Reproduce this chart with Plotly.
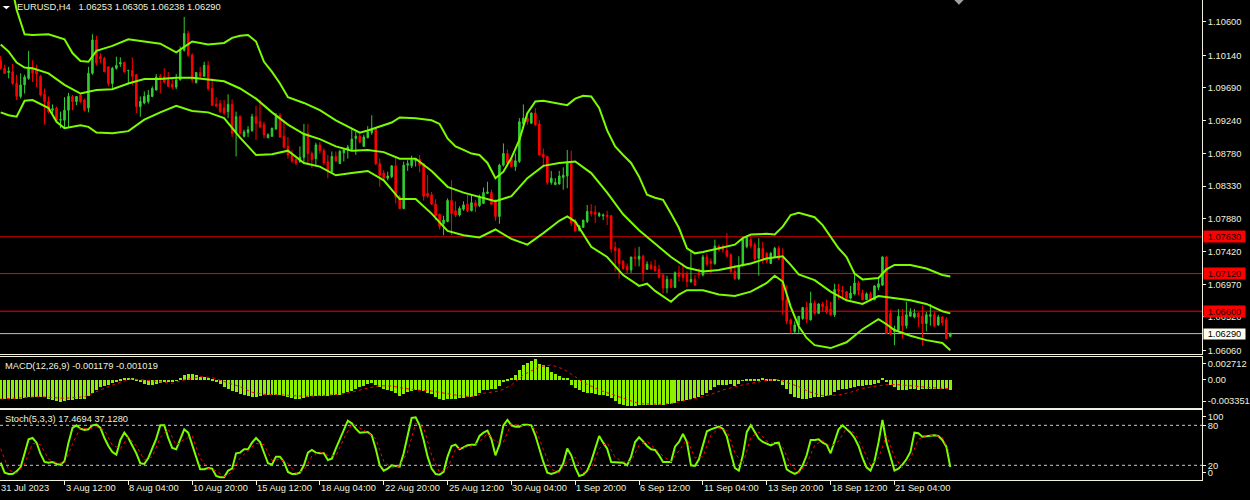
import plotly.graph_objects as go

# EURUSD H4 candles, bar 0 = 31 Jul 2023 20:00
opens = [
    1.1007, 1.0996, 1.0990, 1.0991, 1.0975, 1.0957, 1.0973, 1.0982, 1.0996, 1.0994,
    1.0985, 1.0960, 1.0950, 1.0938, 1.0941, 1.0924, 1.0924, 1.0938, 1.0957, 1.0950,
    1.0959, 1.0952, 1.0941, 1.0989, 1.1035, 1.1012, 1.1010, 1.0998, 1.0975, 1.0996,
    1.1002, 1.1004, 1.0993, 1.0993, 1.0987, 1.0943, 1.0948, 1.0950, 1.0957, 1.0966,
    1.0985, 1.0984, 1.0980, 1.0974, 1.0970, 1.0980, 1.1021, 1.1044, 1.1014, 1.0976,
    1.0990, 1.0985, 1.1000, 1.0968, 1.0946, 1.0947, 1.0941, 1.0936, 1.0946, 1.0908,
    1.0929, 1.0902, 1.0907, 1.0910, 1.0929, 1.0922, 1.0918, 1.0900, 1.0902, 1.0912,
    1.0931, 1.0902, 1.0888, 1.0876, 1.0870, 1.0867, 1.0873, 1.0906, 1.0878, 1.0871,
    1.0890, 1.0882, 1.0867, 1.0853, 1.0874, 1.0864, 1.0879, 1.0883, 1.0884, 1.0899,
    1.0902, 1.0888, 1.0900, 1.0907, 1.0912, 1.0864, 1.0851, 1.0844, 1.0846, 1.0861,
    1.0818, 1.0802, 1.0862, 1.0861, 1.0868, 1.0870, 1.0864, 1.0823, 1.0821, 1.0808,
    1.0794, 1.0781, 1.0784, 1.0813, 1.0799, 1.0793, 1.0801, 1.0808, 1.0799, 1.0810,
    1.0806, 1.0809, 1.0823, 1.0824, 1.0812, 1.0791, 1.0862, 1.0878, 1.0871, 1.0860,
    1.0867, 1.0919, 1.0927, 1.0920, 1.0934, 1.0919, 1.0877, 1.0874, 1.0838, 1.0835,
    1.0836, 1.0845, 1.0847, 1.0865, 1.0784, 1.0772, 1.0776, 1.0784, 1.0798, 1.0797,
    1.0792, 1.0792, 1.0793, 1.0792, 1.0748, 1.0746, 1.0729, 1.0722, 1.0717, 1.0735,
    1.0732, 1.0736, 1.0718, 1.0724, 1.0722, 1.0718, 1.0710, 1.0692, 1.0704, 1.0693,
    1.0713, 1.0712, 1.0712, 1.0701, 1.0704, 1.0713, 1.0710, 1.0735, 1.0729, 1.0726,
    1.0750, 1.0749, 1.0744, 1.0738, 1.0715, 1.0705, 1.0723, 1.0749, 1.0759, 1.0752,
    1.0733, 1.0747, 1.0740, 1.0726, 1.0735, 1.0747, 1.0733, 1.0676, 1.0648, 1.0632,
    1.0641, 1.0650, 1.0665, 1.0648, 1.0671, 1.0657, 1.0670, 1.0667, 1.0663, 1.0655,
    1.0690, 1.0689, 1.0687, 1.0678, 1.0684, 1.0699, 1.0685, 1.0676, 1.0684, 1.0676,
    1.0693, 1.0696, 1.0735, 1.0657, 1.0632, 1.0634, 1.0653, 1.0640, 1.0653, 1.0652,
    1.0657, 1.0653, 1.0643, 1.0653, 1.0655, 1.0641, 1.0652, 1.0648, 1.06253]
highs = [
    1.1013, 1.1001, 1.0998, 1.1002, 1.0987, 1.0989, 1.0987, 1.1020, 1.1007, 1.1001,
    1.0987, 1.0968, 1.0957, 1.0946, 1.0943, 1.0936, 1.0956, 1.0962, 1.0959, 1.0957,
    1.0960, 1.0954, 1.0998, 1.1043, 1.1041, 1.1017, 1.1012, 1.0998, 1.0998, 1.1012,
    1.1011, 1.1005, 1.0993, 1.1011, 1.0988, 1.0957, 1.0964, 1.0966, 1.0971, 1.0988,
    1.0988, 1.0996, 1.0991, 1.0982, 1.0988, 1.1026, 1.1067, 1.1048, 1.1017, 1.0991,
    1.0998, 1.1005, 1.1006, 1.0982, 1.0956, 1.0952, 1.0952, 1.0960, 1.0953, 1.0936,
    1.0931, 1.0911, 1.0916, 1.0933, 1.0944, 1.0952, 1.0922, 1.0906, 1.0914, 1.0934,
    1.0934, 1.0924, 1.0901, 1.0883, 1.0871, 1.0888, 1.0919, 1.0919, 1.0881, 1.0893,
    1.0894, 1.0885, 1.0876, 1.0881, 1.0881, 1.0883, 1.0885, 1.0890, 1.0913, 1.0908,
    1.0905, 1.0904, 1.0916, 1.0931, 1.0913, 1.0871, 1.0855, 1.0853, 1.0862, 1.0874,
    1.0821, 1.0867, 1.0869, 1.0875, 1.0871, 1.0876, 1.0864, 1.0848, 1.0825, 1.0815,
    1.0795, 1.0792, 1.0816, 1.0841, 1.0812, 1.0805, 1.0812, 1.0821, 1.0821, 1.0814,
    1.0821, 1.0831, 1.0839, 1.0828, 1.0815, 1.0864, 1.0892, 1.0884, 1.0874, 1.0878,
    1.0927, 1.0946, 1.0935, 1.0935, 1.0941, 1.0924, 1.0885, 1.0875, 1.0854, 1.0844,
    1.0854, 1.0859, 1.0883, 1.0882, 1.0788, 1.0779, 1.0786, 1.0807, 1.0808, 1.0806,
    1.0797, 1.0795, 1.0799, 1.0793, 1.0756, 1.0748, 1.0731, 1.0726, 1.0735, 1.0747,
    1.0749, 1.0738, 1.0729, 1.0729, 1.0731, 1.0724, 1.0712, 1.0709, 1.0705, 1.0715,
    1.0723, 1.0726, 1.0715, 1.0744, 1.0710, 1.0719, 1.0738, 1.0740, 1.0733, 1.0759,
    1.0752, 1.0752, 1.0768, 1.0740, 1.0724, 1.0736, 1.0763, 1.0764, 1.0763, 1.0755,
    1.0761, 1.0756, 1.0742, 1.0742, 1.0749, 1.0750, 1.0747, 1.0696, 1.0650, 1.0646,
    1.0653, 1.0666, 1.0673, 1.0687, 1.0675, 1.0671, 1.0673, 1.0676, 1.0673, 1.0698,
    1.0698, 1.0695, 1.0688, 1.0695, 1.0715, 1.0702, 1.0690, 1.0686, 1.0687, 1.0696,
    1.0705, 1.0736, 1.0736, 1.0662, 1.0640, 1.0663, 1.0663, 1.0673, 1.0664, 1.0663,
    1.0659, 1.0668, 1.0659, 1.0670, 1.0659, 1.0655, 1.0653, 1.0652, 1.06305]
lows = [
    1.0994, 1.0988, 1.0982, 1.0973, 1.0952, 1.0954, 1.0961, 1.0980, 1.0977, 1.0970,
    1.0957, 1.0918, 1.0934, 1.0934, 1.0922, 1.0913, 1.0913, 1.0914, 1.0938, 1.0945,
    1.0948, 1.0936, 1.0935, 1.0987, 1.1000, 1.1003, 1.0991, 1.0971, 1.0967, 1.0994,
    1.0998, 1.0990, 1.0975, 1.0973, 1.0934, 1.0929, 1.0946, 1.0947, 1.0956, 1.0965,
    1.0961, 1.0975, 1.0970, 1.0967, 1.0967, 1.0979, 1.1019, 1.1012, 1.0976, 1.0975,
    1.0983, 1.0984, 1.0965, 1.0944, 1.0942, 1.0934, 1.0931, 1.0927, 1.0901, 1.0874,
    1.0904, 1.0900, 1.0901, 1.0908, 1.0897, 1.0913, 1.0899, 1.0899, 1.0901, 1.0911,
    1.0900, 1.0885, 1.0871, 1.0865, 1.0862, 1.0865, 1.0864, 1.0862, 1.0858, 1.0860,
    1.0878, 1.0862, 1.0844, 1.0851, 1.0866, 1.0864, 1.0867, 1.0871, 1.0882, 1.0876,
    1.0892, 1.0887, 1.0899, 1.0904, 1.0862, 1.0832, 1.0841, 1.0841, 1.0844, 1.0809,
    1.0801, 1.0801, 1.0854, 1.0858, 1.0860, 1.0852, 1.0813, 1.0817, 1.0807, 1.0786,
    1.0773, 1.0765, 1.0783, 1.0765, 1.0790, 1.0791, 1.0799, 1.0797, 1.0798, 1.0797,
    1.0804, 1.0808, 1.0822, 1.0807, 1.0785, 1.0781, 1.0860, 1.0864, 1.0859, 1.0854,
    1.0865, 1.0915, 1.0918, 1.0919, 1.0916, 1.0875, 1.0859, 1.0835, 1.0835, 1.0835,
    1.0835, 1.0828, 1.0830, 1.0778, 1.0770, 1.0770, 1.0775, 1.0782, 1.0791, 1.0782,
    1.0790, 1.0786, 1.0779, 1.0741, 1.0715, 1.0705, 1.0717, 1.0712, 1.0713, 1.0722,
    1.0722, 1.0701, 1.0717, 1.0717, 1.0715, 1.0705, 1.0685, 1.0685, 1.0692, 1.0692,
    1.0701, 1.0701, 1.0693, 1.0699, 1.0695, 1.0705, 1.0708, 1.0722, 1.0712, 1.0724,
    1.0743, 1.0741, 1.0735, 1.0712, 1.0703, 1.0703, 1.0722, 1.0747, 1.0747, 1.0730,
    1.0709, 1.0726, 1.0726, 1.0725, 1.0735, 1.0731, 1.0655, 1.0642, 1.0629, 1.0629,
    1.0630, 1.0648, 1.0643, 1.0647, 1.0655, 1.0656, 1.0659, 1.0656, 1.0653, 1.0652,
    1.0676, 1.0676, 1.0676, 1.0676, 1.0682, 1.0682, 1.0675, 1.0676, 1.0675, 1.0675,
    1.0689, 1.0695, 1.0629, 1.0627, 1.0613, 1.0632, 1.0622, 1.0636, 1.0652, 1.0650,
    1.0638, 1.0612, 1.0632, 1.0640, 1.0638, 1.0640, 1.0640, 1.0621, 1.06238]
closes = [
    1.0996, 1.0989, 1.0992, 1.0975, 1.0957, 1.0973, 1.0984, 1.0996, 1.0989, 1.0988,
    1.0959, 1.0950, 1.0936, 1.0940, 1.0924, 1.0925, 1.0938, 1.0957, 1.0950, 1.0957,
    1.0950, 1.0938, 1.0989, 1.1035, 1.1003, 1.1009, 1.0991, 1.0975, 1.0996, 1.1000,
    1.1004, 1.0991, 1.0993, 1.0985, 1.0943, 1.0950, 1.0957, 1.0959, 1.0968, 1.0984,
    1.0982, 1.0977, 1.0971, 1.0970, 1.0980, 1.1021, 1.1044, 1.1014, 1.0980, 1.0990,
    1.0985, 1.1000, 1.0968, 1.0945, 1.0944, 1.0936, 1.0934, 1.0946, 1.0906, 1.0929,
    1.0906, 1.0908, 1.0911, 1.0929, 1.0920, 1.0915, 1.0904, 1.0904, 1.0913, 1.0929,
    1.0901, 1.0887, 1.0876, 1.0868, 1.0865, 1.0873, 1.0906, 1.0878, 1.0870, 1.0890,
    1.0882, 1.0865, 1.0853, 1.0874, 1.0868, 1.0881, 1.0883, 1.0887, 1.0898, 1.0902,
    1.0894, 1.0901, 1.0908, 1.0912, 1.0864, 1.0848, 1.0844, 1.0847, 1.0861, 1.0818,
    1.0802, 1.0862, 1.0864, 1.0869, 1.0870, 1.0862, 1.0819, 1.0819, 1.0808, 1.0792,
    1.0777, 1.0786, 1.0813, 1.0795, 1.0793, 1.0802, 1.0807, 1.0799, 1.0810, 1.0805,
    1.0818, 1.0824, 1.0825, 1.0808, 1.0791, 1.0862, 1.0878, 1.0865, 1.0860, 1.0868,
    1.0922, 1.0927, 1.0922, 1.0934, 1.0918, 1.0876, 1.0873, 1.0838, 1.0844, 1.0838,
    1.0847, 1.0848, 1.0865, 1.0782, 1.0771, 1.0778, 1.0786, 1.0798, 1.0795, 1.0794,
    1.0795, 1.0793, 1.0791, 1.0746, 1.0744, 1.0726, 1.0719, 1.0717, 1.0735, 1.0733,
    1.0736, 1.0713, 1.0725, 1.0719, 1.0716, 1.0707, 1.0692, 1.0704, 1.0693, 1.0713,
    1.0708, 1.0707, 1.0701, 1.0704, 1.0696, 1.0711, 1.0735, 1.0725, 1.0726, 1.0750,
    1.0745, 1.0745, 1.0736, 1.0715, 1.0705, 1.0723, 1.0759, 1.0762, 1.0750, 1.0732,
    1.0747, 1.0733, 1.0729, 1.0740, 1.0747, 1.0732, 1.0675, 1.0646, 1.0642, 1.0641,
    1.0653, 1.0665, 1.0649, 1.0671, 1.0657, 1.0670, 1.0666, 1.0659, 1.0655, 1.0690,
    1.0688, 1.0687, 1.0678, 1.0685, 1.0699, 1.0689, 1.0676, 1.0684, 1.0676, 1.0695,
    1.0698, 1.0735, 1.0629, 1.0629, 1.0635, 1.0653, 1.0640, 1.0655, 1.0659, 1.0657,
    1.0652, 1.0643, 1.0655, 1.0655, 1.0640, 1.0652, 1.0644, 1.0622, 1.06290]

bb_up_idx = [0, 2, 4, 6, 8, 12, 16, 18, 20, 22, 24, 28, 32, 36, 40, 44, 48, 52, 56, 58,
             60, 62, 64, 66, 68, 70, 72, 76, 80, 84, 88, 90, 92, 96, 98, 100, 104, 108, 110, 112,
             114, 116, 118, 120, 122, 124, 126, 128, 130, 132, 134, 136, 140, 142, 144, 146, 148, 150, 152, 154,
             156, 158, 160, 162, 164, 166, 168, 170, 172, 174, 176, 180, 184, 186, 188, 192, 194, 196, 198, 200,
             204, 206, 208, 210, 212, 214, 216, 220, 222, 224, 228, 232, 236, 238]
bb_up = [1.1170, 1.1130, 1.1077, 1.1043, 1.1042, 1.1043, 1.1036, 1.1017, 1.1006, 1.1005,
         1.1020, 1.1027, 1.1036, 1.1033, 1.1030, 1.1018, 1.1033, 1.1029, 1.1031, 1.1038,
         1.1041, 1.1042, 1.1033, 1.1005, 1.0991, 1.0975, 1.0956, 1.0948, 1.0938, 1.0924,
         1.0913, 1.0907, 1.0910, 1.0918, 1.0921, 1.0928, 1.0927, 1.0924, 1.0919, 1.0899,
         1.0888, 1.0883, 1.0878, 1.0876, 1.0865, 1.0844, 1.0853, 1.0872, 1.0897, 1.0934,
         1.0950, 1.0951, 1.0947, 1.0945, 1.0954, 1.0958, 1.0957, 1.0941, 1.0910, 1.0888,
         1.0876, 1.0865, 1.0846, 1.0821, 1.0817, 1.0814, 1.0795, 1.0775, 1.0747, 1.0740,
         1.0742, 1.0747, 1.0752, 1.0761, 1.0766, 1.0767, 1.0766, 1.0777, 1.0793, 1.0796,
         1.0790, 1.0779, 1.0763, 1.0747, 1.0735, 1.0712, 1.0704, 1.0706, 1.0718, 1.0724,
         1.0724, 1.0719, 1.0710, 1.0708]
bb_mid_idx = [0, 2, 4, 6, 8, 12, 16, 20, 24, 28, 32, 36, 40, 44, 48, 52, 56, 60, 64, 68,
              72, 76, 80, 84, 88, 92, 96, 100, 104, 108, 112, 116, 120, 124, 128, 132, 136, 140, 144, 148,
              152, 156, 160, 164, 168, 172, 176, 180, 184, 188, 192, 196, 198, 200, 204, 208, 212, 216, 220, 224,
              228, 232, 236, 238]
bb_mid = [1.1029, 1.1019, 1.1004, 1.0997, 1.0996, 1.0989, 1.0973, 1.0961, 1.0966, 1.0967,
          1.0975, 1.0981, 1.0981, 1.0983, 1.0983, 1.0981, 1.0978, 1.0968, 1.0954, 1.0935,
          1.0918, 1.0905, 1.0898, 1.0888, 1.0882, 1.0883, 1.0880, 1.0871, 1.0871, 1.0854,
          1.0832, 1.0824, 1.0818, 1.0812, 1.0819, 1.0844, 1.0861, 1.0865, 1.0867, 1.0851,
          1.0824, 1.0794, 1.0772, 1.0754, 1.0735, 1.0720, 1.0715, 1.0717, 1.0721, 1.0726,
          1.0733, 1.0736, 1.0724, 1.0711, 1.0703, 1.0687, 1.0675, 1.0670, 1.0681, 1.0678,
          1.0675, 1.0670, 1.0660, 1.0657]
bb_low_idx = [0, 2, 4, 6, 8, 12, 14, 16, 20, 22, 24, 28, 32, 36, 40, 44, 48, 52, 56, 60,
              64, 68, 72, 76, 80, 84, 88, 92, 96, 100, 104, 108, 112, 116, 120, 124, 128, 132, 136, 140,
              142, 144, 148, 152, 156, 160, 162, 164, 168, 170, 172, 176, 180, 184, 188, 192, 194, 196, 198, 200,
              202, 204, 208, 212, 216, 220, 222, 224, 228, 232, 236, 238]
bb_low = [1.0935, 1.0931, 1.0929, 1.0951, 1.0952, 1.0941, 1.0922, 1.0913, 1.0917, 1.0915,
          1.0907, 1.0906, 1.0909, 1.0925, 1.0935, 1.0944, 1.0937, 1.0935, 1.0927, 1.0900,
          1.0876, 1.0877, 1.0882, 1.0865, 1.0860, 1.0848, 1.0851, 1.0854, 1.0841, 1.0815,
          1.0815, 1.0795, 1.0771, 1.0765, 1.0762, 1.0773, 1.0760, 1.0752, 1.0768, 1.0785,
          1.0791, 1.0784, 1.0749, 1.0735, 1.0710, 1.0695, 1.0698, 1.0688, 1.0673, 1.0683,
          1.0689, 1.0689, 1.0683, 1.0681, 1.0687, 1.0699, 1.0709, 1.0701, 1.0666, 1.0639,
          1.0623, 1.0613, 1.0609, 1.0617, 1.0635, 1.0649, 1.0642, 1.0634, 1.0626, 1.0620,
          1.0616, 1.0606]

# horizontal lines
level_prices = [1.07630, 1.07120, 1.06600]
current_price = 1.06290
price_ticks = [1.10600, 1.10140, 1.09690, 1.09240, 1.08780, 1.08330, 1.07880, 1.07420, 1.06970, 1.06520, 1.06060]

# MACD(12,26,9)
macd_main = [
    -0.00216, -0.00216, -0.00216, -0.00220, -0.00224, -0.00216, -0.00208, -0.00200, -0.00197, -0.00193,
    -0.00193, -0.00200, -0.00216, -0.00232, -0.00248, -0.00255, -0.00248, -0.00236, -0.00228, -0.00224,
    -0.00224, -0.00216, -0.00185, -0.00145, -0.00114, -0.00083, -0.00067, -0.00051, -0.00035, -0.00016,
    0.00008, 0.00024, 0.00031, 0.00028, 0.00012, -0.00020, -0.00043, -0.00055, -0.00059, -0.00043,
    -0.00028, -0.00020, -0.00016, -0.00012, -0.00004, 0.00028, 0.00059, 0.00079, 0.00071, 0.00059,
    0.00043, 0.00035, 0.00028, 0.00012, -0.00012, -0.00043, -0.00075, -0.00098, -0.00122, -0.00138,
    -0.00157, -0.00173, -0.00185, -0.00193, -0.00197, -0.00185, -0.00177, -0.00169, -0.00169, -0.00173,
    -0.00177, -0.00189, -0.00200, -0.00208, -0.00216, -0.00220, -0.00208, -0.00197, -0.00189, -0.00185,
    -0.00181, -0.00181, -0.00181, -0.00177, -0.00177, -0.00169, -0.00145, -0.00138, -0.00122, -0.00098,
    -0.00083, -0.00067, -0.00043, -0.00028, -0.00059, -0.00079, -0.00098, -0.00114, -0.00122, -0.00145,
    -0.00185, -0.00161, -0.00138, -0.00122, -0.00114, -0.00114, -0.00130, -0.00145, -0.00161, -0.00193,
    -0.00224, -0.00228, -0.00220, -0.00216, -0.00216, -0.00208, -0.00208, -0.00200, -0.00193, -0.00185,
    -0.00145, -0.00118, -0.00110, -0.00102, -0.00098, -0.00067, -0.00020, 0.00012, 0.00031, 0.00059,
    0.00118, 0.00177, 0.00208, 0.00228, 0.00248, 0.00197, 0.00177, 0.00153, 0.00098, 0.00071,
    0.00051, 0.00031, 0.00028, -0.00051, -0.00090, -0.00114, -0.00138, -0.00145, -0.00153, -0.00161,
    -0.00169, -0.00177, -0.00185, -0.00208, -0.00248, -0.00275, -0.00295, -0.00303, -0.00303, -0.00303,
    -0.00295, -0.00295, -0.00295, -0.00295, -0.00291, -0.00287, -0.00287, -0.00283, -0.00275, -0.00263,
    -0.00248, -0.00240, -0.00232, -0.00224, -0.00212, -0.00197, -0.00177, -0.00145, -0.00114, -0.00083,
    -0.00059, -0.00051, -0.00051, -0.00043, -0.00067, -0.00043, -0.00004, 0.00008, 0.00012, 0.00012,
    0.00016, 0.00024, 0.00012, 0.00012, 0.00012, -0.00004, -0.00059, -0.00098, -0.00157, -0.00197,
    -0.00208, -0.00216, -0.00216, -0.00208, -0.00200, -0.00193, -0.00193, -0.00189, -0.00169, -0.00138,
    -0.00118, -0.00106, -0.00098, -0.00090, -0.00075, -0.00067, -0.00063, -0.00059, -0.00051, -0.00043,
    -0.00028, 0.00024, -0.00020, -0.00051, -0.00083, -0.00110, -0.00114, -0.00114, -0.00102, -0.00106,
    -0.00114, -0.00106, -0.00098, -0.00098, -0.00098, -0.00098, -0.00098, -0.00106, -0.001179]
macd_sig_idx = [0, 5, 10, 16, 21, 25, 28, 31, 33, 36, 39, 43, 46, 50, 53, 56, 60, 63, 66, 71,
                76, 80, 85, 88, 91, 95, 98, 101, 105, 108, 111, 115, 118, 121, 125, 128, 131, 135, 138, 141,
                144, 146, 150, 153, 156, 160, 165, 168, 171, 175, 178, 181, 185, 188, 191, 195, 196, 200, 203, 206,
                210, 213, 216, 220, 223, 226, 230, 233, 236, 238]
macd_signal = [
    -0.00224, -0.00208, -0.00197, -0.00216, -0.00197, -0.00118, -0.00059, -0.00012, 0.00012, 0.0,
    -0.00020, -0.00039, 0.0, 0.00039, 0.00028, -0.00020, -0.00079, -0.00145, -0.00169, -0.00177,
    -0.00193, -0.00185, -0.00169, -0.00145, -0.00106, -0.00067, -0.00071, -0.00098, -0.00122, -0.00130,
    -0.00157, -0.00185, -0.00197, -0.00157, -0.00130, -0.00059, 0.00059, 0.00157, 0.00177, 0.00130,
    0.00039, -0.00028, -0.00118, -0.00169, -0.00216, -0.00279, -0.00287, -0.00279, -0.00248, -0.00208,
    -0.00169, -0.00118, -0.00067, -0.00039, -0.00012, 0.00008, -0.00012, -0.00079, -0.00145, -0.00185,
    -0.00177, -0.00145, -0.00098, -0.00067, -0.00051, -0.00059, -0.00079, -0.00090, -0.00098, -0.001019]

# Stochastic(5,3,3)
stoch_main = [
    24, 9, 7, 7, 11, 17, 38, 59, 61, 54,
    37, 25, 24, 25, 22, 21, 26, 54, 76, 80,
    75, 73, 74, 80, 81, 76, 61, 49, 40, 36,
    58, 69, 61, 49, 38, 23, 22, 31, 45, 60,
    80, 80, 61, 46, 44, 59, 74, 69, 50, 30,
    14, 14, 16, 15, 4, 2, 2, 12, 15, 38,
    39, 44, 44, 54, 61, 55, 38, 23, 21, 33,
    33, 25, 10, 7, 7, 9, 20, 39, 43, 39,
    38, 38, 28, 30, 45, 60, 75, 87, 83, 75,
    69, 69, 70, 65, 45, 20, 12, 15, 20, 19,
    18, 38, 65, 91, 92, 80, 58, 33, 15, 7,
    6, 10, 33, 49, 51, 44, 47, 50, 51, 51,
    64, 69, 72, 59, 35, 51, 80, 88, 80, 78,
    78, 81, 81, 80, 65, 43, 25, 9, 7, 9,
    12, 23, 45, 35, 17, 4, 6, 12, 26, 45,
    64, 54, 45, 25, 25, 25, 24, 20, 33, 55,
    62, 56, 49, 44, 43, 35, 25, 25, 25, 48,
    55, 67, 55, 20, 19, 29, 50, 71, 74, 76,
    78, 75, 63, 38, 16, 12, 35, 70, 80, 70,
    60, 55, 53, 50, 53, 54, 35, 14, 10, 7,
    10, 20, 35, 58, 58, 59, 54, 51, 38, 57,
    74, 80, 74, 69, 61, 49, 31, 17, 12, 26,
    54, 88, 54, 33, 12, 15, 21, 29, 40, 69,
    68, 63, 64, 65, 65, 64, 58, 48, 17.47]
# signal read at every second bar
stoch_signal = [
    45, 13, 8, 22, 53, 51, 29, 24, 23, 52,
    77, 74, 78, 73, 50, 45, 63, 49, 28, 33,
    62, 74, 50, 59, 64, 31, 15, 12, 3, 10,
    31, 42, 53, 51, 27, 29, 23, 8, 12, 34,
    40, 35, 34, 60, 82, 76, 69, 60, 26, 16,
    19, 40, 83, 77, 35, 9, 16, 44, 47, 49,
    55, 68, 55, 55, 83, 79, 80, 75, 44, 14,
    9, 27, 32, 9, 15, 45, 54, 32, 25, 26,
    50, 56, 45, 34, 25, 43, 59, 31, 33, 65,
    76, 72, 39, 21, 62, 70, 56, 52, 47, 20,
    9, 22, 50, 57, 48, 56, 76, 68, 47, 20,
    31, 65, 33, 16, 30, 59, 65, 65, 62, 37.13]

date_ticks = [16, 32, 48, 64, 80, 96, 112, 128, 144, 160, 176, 192, 208, 224]
date_labels = ["3 Aug 12:00", "8 Aug 04:00", "10 Aug 20:00", "15 Aug 12:00", "18 Aug 04:00",
               "22 Aug 20:00", "25 Aug 12:00", "30 Aug 04:00", "1 Sep 20:00", "6 Sep 12:00",
               "11 Sep 04:00", "13 Sep 20:00", "18 Sep 12:00", "21 Sep 04:00"]


BG = "#000000"
FG = "#f0f0dc"
BULL = "#32cd32"
BEAR = "#ff0000"
LIME = "#7cfc00"
HIST = "#8cf000"
FONT = "Liberation Sans"
FS = 9.3

bars = list(range(len(closes)))

fig = go.Figure()

fig.add_trace(go.Candlestick(
    x=bars, open=opens, high=highs, low=lows, close=closes,
    increasing=dict(line=dict(color=BULL, width=1), fillcolor=BULL),
    decreasing=dict(line=dict(color=BEAR, width=1), fillcolor=BEAR),
    whiskerwidth=0, xaxis="x", yaxis="y", hoverinfo="skip"))

for ks, vs in [(bb_up_idx, bb_up), (bb_mid_idx, bb_mid), (bb_low_idx, bb_low)]:
    fig.add_trace(go.Scatter(x=ks, y=vs, mode="lines", line=dict(color=LIME, width=2),
                             xaxis="x", yaxis="y", hoverinfo="skip"))

fig.add_trace(go.Bar(x=bars, y=macd_main, width=0.75, marker=dict(color=HIST, line=dict(width=0)),
                     xaxis="x2", yaxis="y2", hoverinfo="skip"))
fig.add_trace(go.Scatter(x=macd_sig_idx, y=macd_signal, mode="lines",
                         line=dict(color=BEAR, width=1, dash="dot"), xaxis="x2", yaxis="y2", hoverinfo="skip"))

fig.add_trace(go.Scatter(x=bars, y=stoch_main, mode="lines", line=dict(color=LIME, width=2),
                         xaxis="x3", yaxis="y3", hoverinfo="skip"))
fig.add_trace(go.Scatter(x=bars[::2], y=stoch_signal, mode="lines",
                         line=dict(color=BEAR, width=1, dash="dot"), xaxis="x3", yaxis="y3", hoverinfo="skip"))

# price levels
for i, p in enumerate(level_prices):
    fig.add_shape(type="line", xref="x domain", x0=0, x1=1, yref="y", y0=p, y1=p,
                  line=dict(color="#d00000" if i == 0 else BEAR, width=1), layer="below")
fig.add_shape(type="line", xref="x domain", x0=0, x1=1, yref="y", y0=current_price, y1=current_price,
              line=dict(color="#c0c0c0", width=1), layer="below")
# stochastic levels
for lv in [80, 20]:
    fig.add_shape(type="line", xref="x3 domain", x0=0, x1=1, yref="y3", y0=lv, y1=lv,
                  line=dict(color="#c8c8c8", width=1, dash="3px,3px"), layer="below")

# small triangles (menu marker, chart shift marker)
fig.add_shape(type="path", xref="paper", yref="paper",
              path="M 0.0022 0.9875 L 0.0083 0.9875 L 0.0053 0.9806 Z",
              fillcolor="#ffffff", line=dict(width=0))
fig.add_shape(type="path", xref="paper", yref="paper",
              path="M 0.7939 1.0 L 0.8017 1.0 L 0.7978 0.9902 Z",
              fillcolor="#a0a0a0", line=dict(width=0))

ann = []
ann.append(dict(xref="paper", yref="paper", x=16 / 1205, y=0.9848, xanchor="left", yanchor="middle",
                text="EURUSD,H4\u00a0\u00a0 1.06253 1.06305 1.06238 1.06290", showarrow=False, borderpad=0))
ann.append(dict(xref="paper", yref="paper", x=4 / 1205, y=0.2381, xanchor="left", yanchor="middle",
                text="MACD(12,26,9) -0.001179 -0.001019", showarrow=False, borderpad=0))
ann.append(dict(xref="paper", yref="paper", x=4 / 1205, y=0.1271, xanchor="left", yanchor="middle",
                text="Stoch(5,3,3) 17.4694 37.1280", showarrow=False, borderpad=0))
for p in level_prices:
    ann.append(dict(xref="paper", yref="y", x=1, xshift=1, y=p, xanchor="left", yanchor="middle",
                    text="%.5f" % p, showarrow=False, bgcolor=BEAR, font=dict(color="#200000"),
                    width=41, height=11, borderpad=0))
ann.append(dict(xref="paper", yref="y", x=1, xshift=1, y=current_price, xanchor="left", yanchor="middle",
                text="%.5f" % current_price, showarrow=False, bgcolor="#fffff0", font=dict(color="#000000"),
                width=41, height=10, borderpad=0))
ann.append(dict(xref="paper", yref="paper", x=0, y=-0.0173, xanchor="left", yanchor="middle",
                text="31 Jul 2023", showarrow=False, borderpad=0))
for t, lab in zip(date_ticks, date_labels):
    ann.append(dict(xref="x3", yref="paper", x=t, y=-0.0173, xanchor="left", yanchor="middle",
                    text=lab, showarrow=False, borderpad=0))

axfont = dict(family=FONT, size=FS, color=FG)
fig.update_layout(
    width=1250, height=500,
    margin=dict(l=0, r=45, t=0, b=20),
    paper_bgcolor=BG, plot_bgcolor=BG,
    showlegend=False, hovermode=False,
    boxgap=0.45, bargap=0,
    font=dict(family=FONT, size=FS, color=FG),
    annotations=ann,
    xaxis=dict(domain=[0, 1], range=[-0.1675, 301.08], anchor="y", showgrid=False, zeroline=False,
               showline=True, linecolor=FG, linewidth=1, showticklabels=False, ticks="",
               rangeslider=dict(visible=False)),
    xaxis2=dict(matches="x", anchor="y2", showgrid=False, zeroline=False, showline=True, mirror=True,
                linecolor=FG, linewidth=1, showticklabels=False, ticks=""),
    xaxis3=dict(matches="x", anchor="y3", showgrid=False, zeroline=False, showline=True, mirror=True,
                linecolor=FG, linewidth=1, showticklabels=False, tickmode="array", tickvals=date_ticks,
                ticks="outside", ticklen=4, tickcolor=FG),
    yaxis=dict(domain=[0.2619, 1], range=[1.06004, 1.10904], side="right", showgrid=False, zeroline=False,
               showline=True, linecolor=FG, linewidth=1, tickmode="array", tickvals=price_ticks,
               ticktext=["%.5f" % v for v in price_ticks], ticks="outside", ticklen=3, tickcolor=FG,
               tickfont=axfont),
    yaxis2=dict(domain=[0.1506, 0.2569], range=[-0.003266, 0.002747], side="right", showgrid=False,
                zeroline=False, showline=True, linecolor=FG, linewidth=1, tickmode="array",
                tickvals=[0.00197, 0.0, -0.00248], ticktext=["0.002712", "0.00", "-0.003351"],
                ticks="outside", ticklen=3, tickcolor=FG, tickfont=axfont),
    yaxis3=dict(domain=[0, 0.1458], range=[-2.05, 102.95], side="right", showgrid=False, zeroline=False,
                showline=True, linecolor=FG, linewidth=1, tickmode="array", tickvals=[92.5, 80, 20, 8.5],
                ticktext=["100", "80", "20", "0"], ticks="outside", ticklen=3, tickcolor=FG, tickfont=axfont),
)

# the page's default body margin would push the 1250x500 figure off the window
fig.write_html("out.html", config={"displayModeBar": False},
               post_script="document.body.style.margin='0';document.body.style.background='#000';")
